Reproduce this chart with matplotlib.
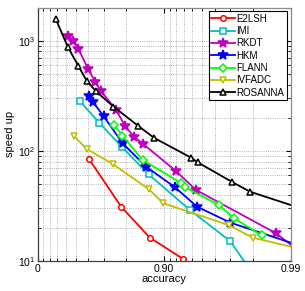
import matplotlib
matplotlib.use('Agg')
import matplotlib.pyplot as plt
import numpy as np

plt.rcParams['font.family'] = ['Liberation Sans', 'DejaVu Sans']
plt.rcParams['mathtext.fontset'] = 'custom'
plt.rcParams['mathtext.rm'] = 'Liberation Sans'

# accuracy / speed-up (last points of some fall outside the view)
e2lsh_acc = [0.605, 0.781, 0.870, 0.9295]
e2lsh_spd = [85, 31.1, 16.3, 10.4]

imi_acc = [0.537, 0.674, 0.783, 0.867, 0.9375, 0.970, 0.980]
imi_spd = [281, 180, 109, 61.2, 29.0, 15.1, 7.7]

rkdt_acc = [0.428, 0.478, 0.523, 0.602, 0.648, 0.682, 0.760, 0.796, 0.827,
            0.854, 0.919, 0.944, 0.987, 0.9937]
rkdt_spd = [1110, 1000, 840, 549, 425, 352, 235, 168, 134, 115, 65.6, 44.1,
            17.8, 9.3]

hkm_acc = [0.607, 0.633, 0.699, 0.787, 0.861, 0.918, 0.945, 0.970, 0.9937]
hkm_spd = [317, 279, 206, 117, 71.8, 46.6, 31.1, 22.3, 12.3]

flann_acc = [0.751, 0.786, 0.852, 0.927, 0.932, 0.963, 0.972, 0.983]
flann_spd = [172, 137, 82.6, 50.7, 46.6, 32.2, 24.4, 17.1]

ivfadc_acc = [0.484, 0.590, 0.745, 0.867, 0.8985, 0.969, 0.980, 0.9937]
ivfadc_spd = [136, 104, 76, 45.0, 33.4, 21.2, 16.3, 11.9]

rosanna_acc = [0.280, 0.421, 0.523, 0.590, 0.652, 0.748, 0.840, 0.880,
               0.9386, 0.9457, 0.971, 0.979, 0.9937]
rosanna_spd = [1573, 882, 589, 433, 349, 252, 168, 131, 86.7, 78.6, 52.1,
               42.6, 27.1]

series = [
    ('E2LSH', e2lsh_acc, e2lsh_spd, '#ff0000', 'o', 'w', 4),
    ('IMI', imi_acc, imi_spd, '#00bfbf', 's', 'w', 4),
    ('RKDT', rkdt_acc, rkdt_spd, '#bf00bf', '*', '#bf00bf', 7.5),
    ('HKM', hkm_acc, hkm_spd, '#0000ff', '*', '#0000ff', 7.5),
    ('FLANN', flann_acc, flann_spd, '#00ff00', 'D', 'w', 3.8),
    ('IVFADC', ivfadc_acc, ivfadc_spd, '#bfbf00', 'v', 'w', 5),
    ('ROSANNA', rosanna_acc, rosanna_spd, '#000000', '^', 'w', 5),
]

fig = plt.figure(figsize=(3.05, 2.91), dpi=100)
ax = fig.add_axes([37.7 / 305, 1 - 261 / 291, 253 / 305, 253.5 / 291])

for name, acc, spd, col, mk, fc, ms in series:
    err = 1 - np.array(acc)
    ax.plot(err, spd, color=col, lw=1.3, marker=mk, ms=ms, mfc=fc,
            mec=col, mew=1.1, label=name)

ax.set_xscale('log')
ax.set_yscale('log')
ax.set_xlim(1, 0.01)
ax.set_ylim(10, 2000)
ax.set_xticks([1, 0.1, 0.01])
ax.set_xticklabels(['0', '0.90', '0.99'])
ax.set_yticks([10, 100, 1000])
ax.set_yticklabels([r'$10^1$', r'$10^2$', r'$10^3$'])
ax.tick_params(which='both', direction='in', labelsize=7.5, top=True, right=True)
ax.tick_params(which='minor', labelbottom=False, labelleft=False, length=2)
ax.tick_params(which='major', length=3.5, pad=2)
ax.grid(True, which='both', ls=':', color='0.6', lw=0.6)
for sp in ax.spines.values():
    sp.set_color('0.25')
    sp.set_linewidth(0.9)
ax.spines['top'].set_color('0.55')
ax.spines['right'].set_color('0.55')

ax.set_xlabel('accuracy', fontsize=8, labelpad=0)
ax.set_ylabel('speed up', fontsize=8, labelpad=2)

leg = ax.legend(loc='upper right', fontsize=7, handlelength=2.4,
                handletextpad=0.2, labelspacing=0.24, borderpad=0.25,
                borderaxespad=0, fancybox=False, framealpha=1, edgecolor='k',
                bbox_to_anchor=(0.985, 0.985))
leg.get_frame().set_linewidth(0.8)

fig.savefig('out.png', dpi=100)
